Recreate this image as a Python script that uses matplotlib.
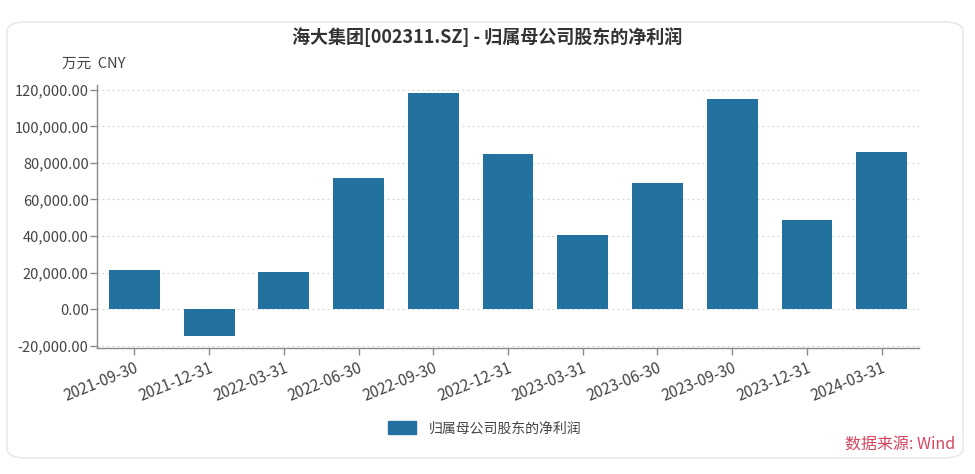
import matplotlib
matplotlib.use('Agg')
import matplotlib.pyplot as plt
from matplotlib.patches import FancyBboxPatch, Patch
from matplotlib.ticker import FuncFormatter, MultipleLocator

plt.rcParams['font.family'] = ['Noto Sans CJK SC', 'DejaVu Sans']

# данные
periods = ['2021-09-30', '2021-12-31', '2022-03-31', '2022-06-30', '2022-09-30',
           '2022-12-31', '2023-03-31', '2023-06-30', '2023-09-30', '2023-12-31',
           '2024-03-31']
net_profit = [21500, -14800, 20300, 71800, 118400, 84900, 40500, 68900, 114900,
              48800, 86000]

title = '海大集团[002311.SZ] - 归属母公司股东的净利润'
series_name = '归属母公司股东的净利润'
unit_label = '万元  CNY'
source_label = '数据来源: Wind'

bar_color = '#22719e'
axis_color = '#8a8a8a'
text_color = '#444444'

fig = plt.figure(figsize=(9.75, 4.74), dpi=100)
fig.patch.set_facecolor('white')

# рамка-карточка вокруг графика (под осями)
card = FancyBboxPatch((0.0072, 0.0338), 0.9805, 0.92,
                      boxstyle='round,pad=0,rounding_size=0.02',
                      transform=fig.transFigure, facecolor='white',
                      edgecolor='#e6e6e6', linewidth=1.0, zorder=-10)
fig.patches.append(card)

ax = fig.add_axes([0.0995, 0.2652, 0.8431, 0.5555])
ax.set_facecolor('none')
ax.set_zorder(1)

x = list(range(len(periods)))
ax.bar(x, net_profit, width=0.68, color=bar_color, zorder=3)

ax.set_xlim(-0.5, len(periods) - 0.5)
ax.set_ylim(-21500, 122700)
ax.yaxis.set_major_locator(MultipleLocator(20000))
ax.yaxis.set_major_formatter(FuncFormatter(lambda v, p: f'{v:,.2f}'))

ax.set_xticks(x)
ax.set_xticklabels(periods, rotation=22, ha='right', rotation_mode='anchor')

ax.grid(axis='y', linestyle=(0, (1.5, 2.5)), color='#d5d5d5', linewidth=0.9, zorder=0)
ax.grid(axis='x', visible=False)

for side in ['top', 'right']:
    ax.spines[side].set_visible(False)
for side in ['left', 'bottom']:
    ax.spines[side].set_color(axis_color)
    ax.spines[side].set_linewidth(1.0)

ax.tick_params(axis='both', colors=axis_color, labelcolor=text_color,
               length=5, width=1.0, direction='out')
ax.tick_params(axis='y', pad=1, labelsize=10.5)
ax.tick_params(axis='x', pad=3, labelsize=11)

fig.text(0.5, 0.922, title, ha='center', va='center', fontsize=13,
         fontweight='bold', color='#333333')
fig.text(0.064, 0.866, unit_label, ha='left', va='center', fontsize=10.5,
         color=text_color)

leg = fig.legend(handles=[Patch(facecolor=bar_color, edgecolor=bar_color, label=series_name)],
                 loc='center', bbox_to_anchor=(0.497, 0.097), frameon=False,
                 fontsize=10, handlelength=2.0, handleheight=1.1, handletextpad=0.9)
for t in leg.get_texts():
    t.set_color(text_color)

fig.text(0.98, 0.061, source_label, ha='right', va='center', fontsize=11.5,
         color='#d6455e')

fig.savefig('out.png', dpi=100)
plt.close(fig)
